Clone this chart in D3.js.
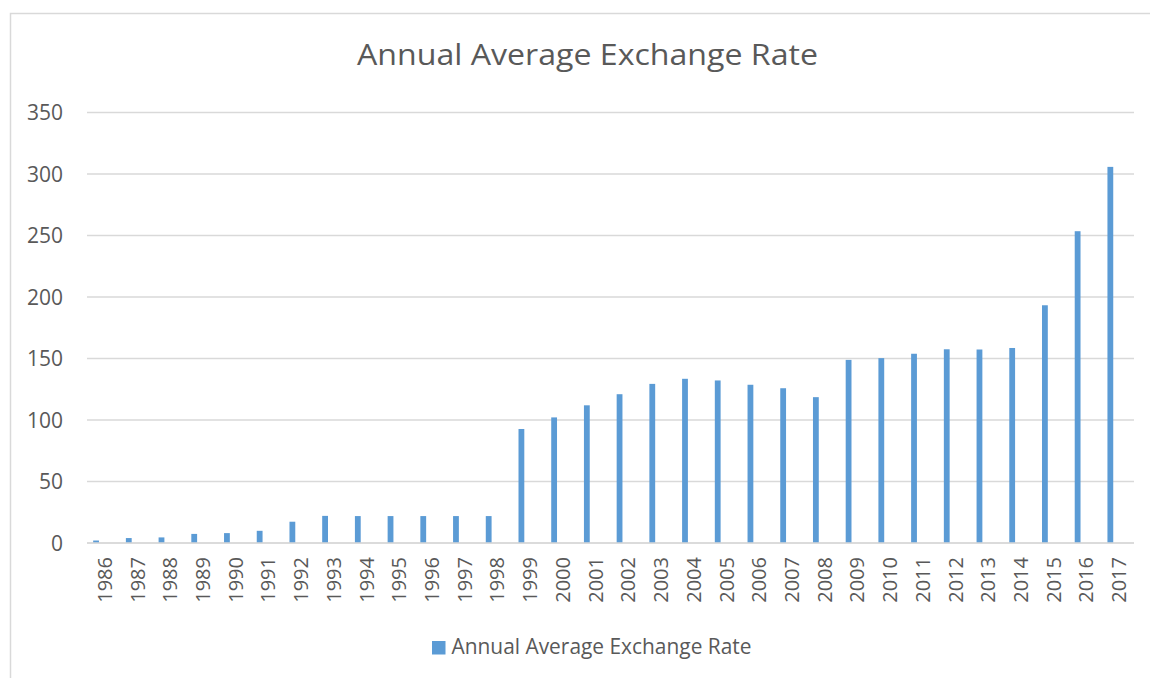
<!DOCTYPE html>
<html>
<head>
<meta charset="utf-8">
<script src="https://cdn.jsdelivr.net/npm/d3@7"></script>
<style>
  html, body { margin: 0; padding: 0; background: #fff; }
  svg { display: block; }
  text { font-family: "Open Sans", "Noto Sans", sans-serif; fill: #595959; }
</style>
</head>
<body>
<svg id="chart" width="1150" height="678"></svg>
<script>
const titleText = "Annual Average Exchange Rate";
const seriesName = "Annual Average Exchange Rate";
const years = ["1986","1987","1988","1989","1990","1991","1992","1993","1994","1995","1996","1997","1998","1999","2000","2001","2002","2003","2004","2005","2006","2007","2008","2009","2010","2011","2012","2013","2014","2015","2016","2017"];
const rates = [2.02,4.02,4.54,7.39,8.04,9.91,17.30,22.05,21.89,21.89,21.89,21.89,21.89,92.69,102.11,111.94,120.97,129.36,133.50,132.15,128.65,125.83,118.57,148.88,150.30,153.86,157.50,157.31,158.55,193.28,253.49,305.79];
const yTicks = [0,50,100,150,200,250,300,350];

const svg = d3.select("#chart");
const W = 1150, H = 678;
const plot = { left: 87, right: 1134, top: 112.5, bottom: 543 };

// chart area border
svg.append("rect")
  .attr("x", 10.5).attr("y", 13.5)
  .attr("width", W + 10).attr("height", H + 10)
  .attr("fill", "#fff").attr("stroke", "#d9d9d9").attr("stroke-width", 1.5);

const x = d3.scaleBand().domain(years).range([plot.left, plot.right]).padding(0);
const y = d3.scaleLinear().domain([0, 350]).range([plot.bottom, plot.top]);

// gridlines
svg.append("g").selectAll("line").data(yTicks).join("line")
  .attr("x1", plot.left).attr("x2", plot.right)
  .attr("y1", d => y(d)).attr("y2", d => y(d))
  .attr("stroke", "#d9d9d9").attr("stroke-width", 1.6);

// y axis labels
const yAxis = d3.axisLeft(y).tickValues(yTicks).tickSize(0).tickPadding(0);
const gy = svg.append("g").attr("transform", `translate(${63},0)`).call(yAxis);
gy.select(".domain").remove();
gy.selectAll("text")
  .style("font-family", '"Open Sans", "Noto Sans", sans-serif')
  .style("font-size", "21px").attr("fill", "#595959").attr("dy", "0.35em");

// bars
const barW = 5.8, barShift = 7.3;
svg.append("g").selectAll("rect").data(years.map((d, i) => ({ year: d, v: rates[i] }))).join("rect")
  .attr("x", d => x(d.year) + x.bandwidth() / 2 - barShift - barW / 2)
  .attr("width", barW)
  .attr("y", d => y(d.v))
  .attr("height", d => y(0) - y(d.v))
  .attr("fill", "#5b9bd5");

// x axis labels
const xAxis = d3.axisBottom(x).tickSize(0).tickPadding(0);
const gx = svg.append("g").attr("transform", `translate(0,${plot.bottom})`).call(xAxis);
gx.select(".domain").remove();
gx.selectAll("text")
  .style("font-family", '"Open Sans", "Noto Sans", sans-serif')
  .style("font-size", "20px").attr("fill", "#595959")
  .attr("text-anchor", "end")
  .attr("transform", "rotate(-90)")
  .attr("x", -14).attr("y", 1.5).attr("dy", "0.35em");

// redraw baseline on top
svg.append("line")
  .attr("x1", plot.left).attr("x2", plot.right)
  .attr("y1", y(0)).attr("y2", y(0))
  .attr("stroke", "#d9d9d9").attr("stroke-width", 1.6);

// title
svg.append("text")
  .attr("x", 587.5).attr("y", 65)
  .attr("text-anchor", "middle")
  .style("font-size", "30px")
  .attr("textLength", 461).attr("lengthAdjust", "spacingAndGlyphs")
  .text(titleText);

// legend
svg.append("rect").attr("x", 432).attr("y", 641).attr("width", 13.5).attr("height", 13.5).attr("fill", "#5b9bd5");
svg.append("text")
  .attr("x", 451.5).attr("y", 654)
  .style("font-size", "21px")
  .attr("textLength", 300).attr("lengthAdjust", "spacingAndGlyphs")
  .text(seriesName);
</script>
</body>
</html>
